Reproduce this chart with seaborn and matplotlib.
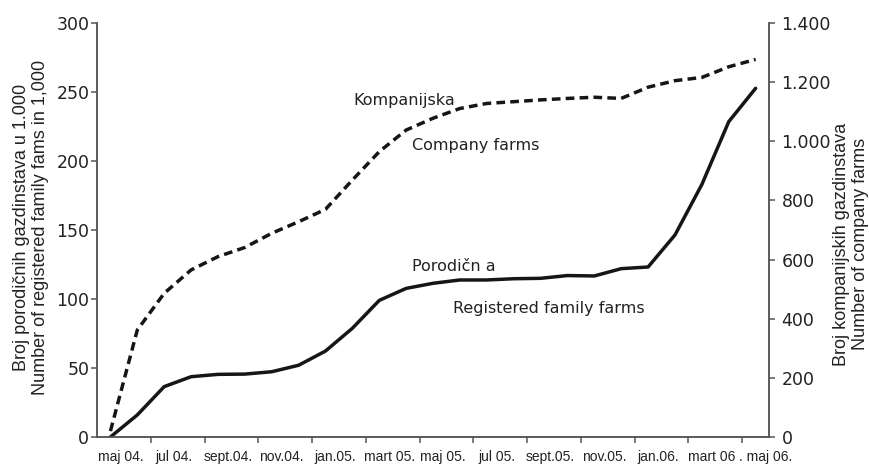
import matplotlib
matplotlib.use("Agg")
import matplotlib.pyplot as plt
from matplotlib import font_manager
from matplotlib.transforms import ScaledTranslation
import seaborn as sns
import numpy as np
import pandas as pd

months = ["maj 04", "jun 04", "jul 04", "avg 04", "sept 04", "okt 04", "nov 04", "dec 04",
          "jan 05", "feb 05", "mart 05", "apr 05", "maj 05", "jun 05", "jul 05", "avg 05",
          "sept 05", "okt 05", "nov 05", "dec 05", "jan 06", "feb 06", "mart 06", "apr 06", "maj 06"]
family = [0, 16, 36.5, 43.7, 45.4, 45.6, 47.3, 52, 62.3, 78.8, 99, 107.7, 111.4,
          113.8, 113.8, 114.7, 115, 117, 116.7, 122, 123.2, 146.4, 183, 228.5, 252.7]
company = [20, 362, 486, 565, 610, 641, 689, 728, 770, 869, 965, 1038, 1078,
           1111, 1128, 1134, 1140, 1145, 1149, 1145, 1183, 1205, 1216, 1252, 1277]
tick_labels = ["maj 04.", "jul 04.", "sept.04.", "nov.04.", "jan.05.", "mart 05.", "maj 05.",
               "jul 05.", "sept.05.", "nov.05.", "jan.06.", "mart 06", ". maj 06."]
left_ticks = [0, 50, 100, 150, 200, 250, 300]
right_ticks = [0, 200, 400, 600, 800, 1000, 1200, 1400]
right_tick_labels = ["0", "200", "400", "600", "800", "1.000", "1.200", "1.400"]

sns.set_style("white")
plt.rcParams['font.family'] = ['Liberation Sans', 'DejaVu Sans']

available = {f.name for f in font_manager.fontManager.ttflist}
if "Liberation Sans Narrow" in available:
    xfam, xsize = ['Liberation Sans Narrow', 'Liberation Sans'], 11
else:
    xfam, xsize = ['Liberation Sans', 'DejaVu Sans'], 10

df = pd.DataFrame({"idx": np.arange(len(months)), "family": family, "company": company})

fig = plt.figure(figsize=(8.69, 4.66), dpi=100)
ax = fig.add_axes([0.1116, 0.0622, 0.7734, 0.8884])
ax2 = ax.twinx()

line_col = "#161616"
sns.lineplot(data=df, x="idx", y="family", ax=ax, color=line_col, linewidth=2.5)
sns.lineplot(data=df, x="idx", y="company", ax=ax2, color=line_col, linewidth=2.5)
ax2.lines[0].set_dashes([2.5, 1.5])

spine_col = "#555555"
for a in (ax, ax2):
    a.set_xlim(-0.5, len(months) - 0.5)
    for s in a.spines.values():
        s.set_color(spine_col)
        s.set_linewidth(1.1)
    a.spines["top"].set_visible(False)
    a.set_xlabel("")

tick_font = dict(family=['DejaVu Sans'], size=12.5, color="#222222")
ax.set_ylim(0, 300)
ax2.set_ylim(0, 1400)
ax.set_yticks(left_ticks)
ax.set_yticklabels([str(v) for v in left_ticks], **tick_font)
ax2.set_yticks(right_ticks)
ax2.set_yticklabels(right_tick_labels, **tick_font)
ax.tick_params(axis="y", which="major", direction="out", length=4, width=1.1, color=spine_col, pad=1.5, left=True)
ax2.tick_params(axis="y", which="major", direction="out", length=4, width=1.1, color=spine_col, pad=5, right=True)

ax.set_xticks(np.arange(0, len(months), 2))
ax.set_xticklabels(tick_labels, fontsize=xsize, family=xfam, color="#222222")
ax.set_xticks(np.arange(1.5, len(months) - 1, 2), minor=True)
ax.tick_params(axis="x", which="major", length=0, pad=9)
ax.tick_params(axis="x", which="minor", direction="out", length=4, width=1.1, color=spine_col, bottom=True)
ax2.tick_params(axis="x", which="both", length=0)
shift = ScaledTranslation(10 / 100, 0, fig.dpi_scale_trans)
for lab in ax.get_xticklabels():
    lab.set_transform(lab.get_transform() + shift)

ax.set_ylabel("Broj porodičnih gazdinstava u 1.000\nNumber of registered family fams in 1,000",
              fontsize=13, color="#222222")
ax.yaxis.label.set_va("center")
ax.yaxis.set_label_coords(-0.098, 0.507)
ax2.set_ylabel("Broj kompanijskih gazdinstava\nNumber of company farms", fontsize=13,
               rotation=90, color="#222222")
ax2.yaxis.label.set_va("center")
ax2.yaxis.set_label_coords(1.122, 0.466)

ann = dict(family=['DejaVu Sans'], fontsize=11.5, color="#222222", ha="left", va="baseline")
ax.text(9.03, 240.6, "Kompanijska", **ann)
ax.text(11.23, 208, "Company farms", **ann)
ax.text(11.23, 120.5, "Porodičn a", **ann)
ax.text(12.75, 89.9, "Registered family farms", **ann)

fig.savefig("out.png", dpi=100)
